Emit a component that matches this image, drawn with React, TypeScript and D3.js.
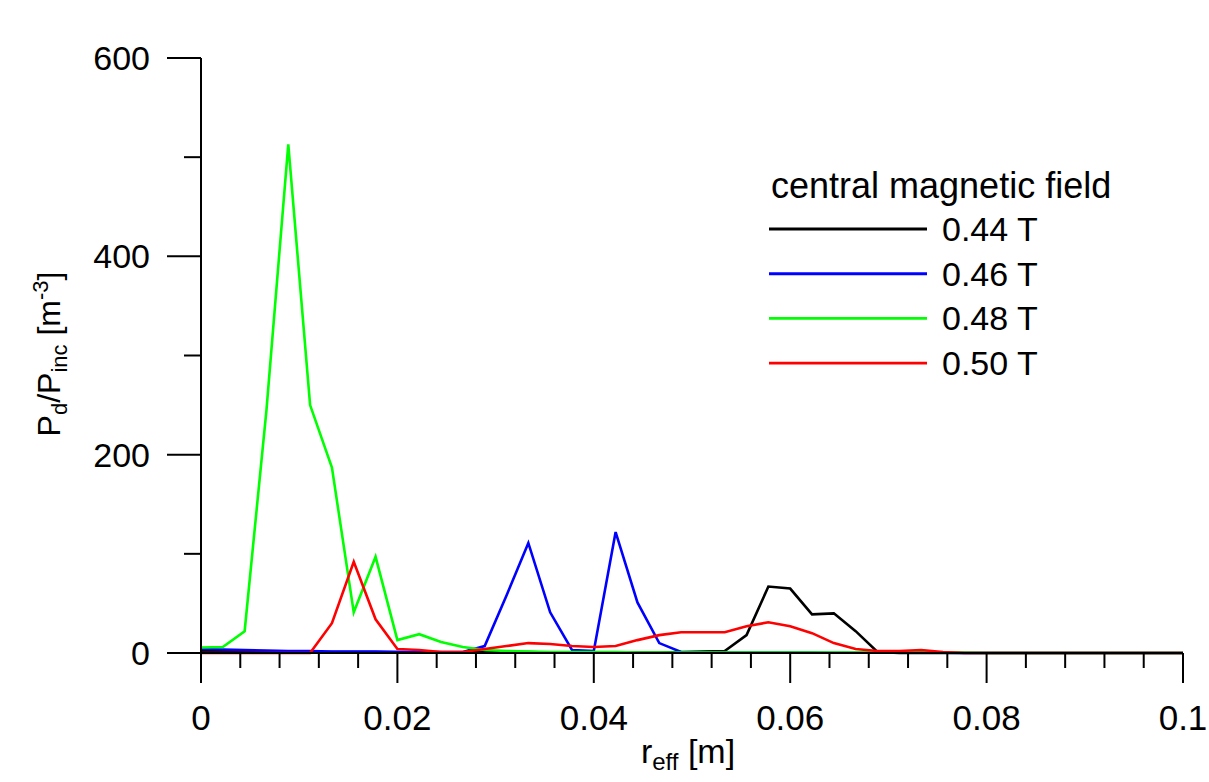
import React from "react";
import * as d3 from "d3";

const N = 46;
const xMax = 0.1;
const rValues = Array.from({ length: N }, (_, i) => (i * xMax) / (N - 1));

const b044 = [2, 2, 1.5, 1.5, 1, 1, 1, 1, 1, 1, 0.5, 0.5, 0.5, 1, 1, 1, 0.5, 0.5, 0.5, 0.5, 0.5, 0.5, 1, 1.5, 2, 18, 67, 65, 39, 40, 22, 1, 0, 0, 0, 0, 0, 0, 0, 0, 0, 0, 0, 0, 0, 0];
const b046 = [4, 3.5, 3, 2.5, 2, 2, 1.5, 1.5, 1.5, 1, 1, 1, 1, 7, 58, 111, 41, 3, 2, 122, 51, 10, 1, 0.5, 0.5, 0.5, 0.5, 0.5, 0.5, 0.3, 0.3, 0.3, 0.3, 0.2, 0.2, 0, 0, 0, 0, 0, 0, 0, 0, 0, 0, 0];
const b048 = [5.5, 6, 22, 245, 513, 250, 187, 41, 97, 13, 19, 11, 6, 3, 2, 1.5, 1, 1, 1, 1, 0.5, 0.5, 0.5, 0.5, 0.5, 0.5, 0.5, 0.5, 0.5, 0.5, 0.5, 0.5, 0.5, 0.5, 0.5, 0.3, 0, 0, 0, 0, 0, 0, 0, 0, 0, 0];
const b050 = [0, 0, 0, 0, 0, 0, 30, 92, 34, 4, 3, 1, 1, 4, 7, 10, 9, 7, 6, 7, 13, 18, 21, 21, 21, 27, 31, 27, 20, 10, 4, 2, 2, 3, 1, 0, 0, 0, 0, 0, 0, 0, 0, 0, 0, 0];

const seriesLabels = ["0.44 T", "0.46 T", "0.48 T", "0.50 T"];
const seriesColors = ["#000000", "#0000ff", "#00ff00", "#ff0000"];
const seriesData = [b044, b046, b048, b050];

const xMajorTicks = [0, 0.02, 0.04, 0.06, 0.08, 0.1];
const xTickLabels = ["0", "0.02", "0.04", "0.06", "0.08", "0.1"];
const xMinorTicks = [0.004, 0.008, 0.012, 0.016, 0.024, 0.028, 0.032, 0.036, 0.044, 0.048, 0.052, 0.056, 0.064, 0.068, 0.072, 0.076, 0.084, 0.088, 0.092, 0.096];
const yMajorTicks = [0, 200, 400, 600];
const yMinorTicks = [100, 300, 500];

const FONT = "'Liberation Sans', Arial, Helvetica, sans-serif";

export default function App() {
  const x = d3.scaleLinear().domain([0, 0.1]).range([201, 1183]);
  const y = d3.scaleLinear().domain([0, 600]).range([653, 58]);
  const line = d3
    .line<number>()
    .x((_, i) => x(rValues[i]))
    .y((d) => y(d));

  return (
    <svg
      width={1209}
      height={782}
      style={{ position: "absolute", left: 0, top: 0, background: "#fff" }}
      fontFamily={FONT}
    >
      <rect width={1209} height={782} fill="#fff" />
      {/* data lines */}
      {seriesData.map((s, k) => (
        <path key={k} d={line(s) || ""} fill="none" stroke={seriesColors[k]} strokeWidth={2.6} strokeLinejoin="miter" />
      ))}
      {/* axes */}
      <line x1={x(0)} x2={x(0)} y1={y(600)} y2={y(0)} stroke="#000" strokeWidth={2} />
      <line x1={x(0)} x2={x(0.1)} y1={y(0)} y2={y(0)} stroke="#000" strokeWidth={2} />
      {yMajorTicks.map((t) => (
        <g key={"ym" + t}>
          <line x1={x(0) - 34} x2={x(0)} y1={y(t)} y2={y(t)} stroke="#000" strokeWidth={2} />
          <text x={150} y={y(t) + 12} fontSize={34} textAnchor="end" fill="#000">
            {t}
          </text>
        </g>
      ))}
      {yMinorTicks.map((t) => (
        <line key={"yn" + t} x1={x(0) - 17} x2={x(0)} y1={y(t)} y2={y(t)} stroke="#000" strokeWidth={2} />
      ))}
      {xMajorTicks.map((t, i) => (
        <g key={"xm" + t}>
          <line x1={x(t)} x2={x(t)} y1={y(0)} y2={y(0) + 30} stroke="#000" strokeWidth={2} />
          <text x={x(t)} y={730} fontSize={35} textAnchor="middle" fill="#000">
            {xTickLabels[i]}
          </text>
        </g>
      ))}
      {xMinorTicks.map((t) => (
        <line key={"xn" + t} x1={x(t)} x2={x(t)} y1={y(0)} y2={y(0) + 15} stroke="#000" strokeWidth={2} />
      ))}
      {/* axis titles */}
      <text x={688} y={763} fontSize={34} textAnchor="middle" fill="#000">
        r<tspan dy={7} fontSize={24}>eff</tspan>
        <tspan dy={-7}> [m]</tspan>
      </text>
      <text transform="translate(60,354) rotate(-90)" fontSize={32} textAnchor="middle" fill="#000">
        P<tspan dy={7} fontSize={22}>d</tspan>
        <tspan dy={-7}>/P</tspan>
        <tspan dy={7} fontSize={22}>inc</tspan>
        <tspan dy={-7}> [m</tspan>
        <tspan dy={-12} fontSize={22}>-3</tspan>
        <tspan dy={12}>]</tspan>
      </text>
      {/* legend */}
      <text x={771} y={198} fontSize={36} fill="#000">
        central magnetic field
      </text>
      {seriesLabels.map((lab, k) => {
        const ly = 229 + k * 44.7;
        return (
          <g key={lab}>
            <line x1={769} x2={927} y1={ly} y2={ly} stroke={seriesColors[k]} strokeWidth={k < 2 ? 3 : 2.6} />
            <text x={942} y={ly + 12} fontSize={34} fill="#000">
              {lab}
            </text>
          </g>
        );
      })}
    </svg>
  );
}
